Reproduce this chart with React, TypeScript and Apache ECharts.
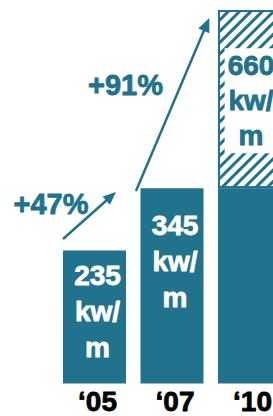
import React, { useEffect, useRef } from "react";
import * as echarts from "echarts";

const categories = ["\u201805", "\u201807", "\u201810"];
const totals = [235, 345, 660];
const achieved = [235, 345, 345];
const unitText = "kw/\nm";
const growthLabels = ["+47%", "+91%"];

const TEAL = "#21728d";
const FONT = '"Liberation Sans", Arial, sans-serif';
const HEAVY = 0.8;

function arrow(x1: number, y1: number, x2: number, y2: number, len: number, half: number) {
  const dx = x2 - x1;
  const dy = y2 - y1;
  const L = Math.sqrt(dx * dx + dy * dy);
  const ux = dx / L;
  const uy = dy / L;
  const bx = x2 - ux * len;
  const by = y2 - uy * len;
  const nx = -uy;
  const ny = ux;
  return [
    {
      type: "line",
      shape: { x1, y1, x2: bx + ux * 2, y2: by + uy * 2 },
      style: { stroke: TEAL, lineWidth: 2.5 },
    },
    {
      type: "polygon",
      shape: {
        points: [
          [x2, y2],
          [bx + nx * half, by + ny * half],
          [bx - nx * half, by - ny * half],
        ],
      },
      style: { fill: TEAL },
    },
  ];
}

export default function App() {
  const ref = useRef<HTMLDivElement>(null);
  useEffect(() => {
    if (!ref.current) return;
    const chart = echarts.init(ref.current, null, { renderer: "svg" });
    const labelDistances = [7, 19];
    const baseData = achieved.map((v, i) => {
      if (i < 2) {
        return {
          value: v,
          label: {
            show: true,
            position: "insideTop",
            distance: labelDistances[i],
            offset: [3, 0],
            formatter: `${totals[i]}\n${unitText}`,
            color: "#fff",
            textBorderColor: "#fff",
            textBorderWidth: HEAVY,
            fontSize: 28,
            fontWeight: "bold",
            fontFamily: FONT,
            lineHeight: 36,
          },
        };
      }
      return { value: v, label: { show: false } };
    });
    const projData = totals.map((t, i) => {
      const ext = t - achieved[i];
      if (ext <= 0) return "-";
      return {
        value: ext,
        itemStyle: {
          color: "#fff",
          borderColor: TEAL,
          borderWidth: 2,
          decal: {
            symbol: "rect",
            symbolSize: 1,
            dashArrayX: [1, 0],
            dashArrayY: [3, 5],
            rotation: -Math.PI / 4,
            color: TEAL,
          },
        },
        label: {
          show: true,
          position: "inside",
          offset: [1.5, 1.5],
          formatter: `${t}\n${unitText}`,
          color: TEAL,
          textBorderColor: TEAL,
          textBorderWidth: HEAVY,
          backgroundColor: "#fff",
          padding: [0, 3],
          fontSize: 28,
          fontWeight: "bold",
          fontFamily: FONT,
          lineHeight: 35,
        },
      };
    });

    const pctStyle = (text: string) => ({
      text,
      fill: TEAL,
      stroke: TEAL,
      lineWidth: HEAVY,
      lineJoin: "round",
      font: `bold 29px ${FONT}`,
      textAlign: "center",
      textVerticalAlign: "middle",
    });

    chart.setOption({
      animation: false,
      grid: { left: 55.75, right: 0.75, top: 10, bottom: 31 },
      xAxis: {
        type: "category",
        data: categories,
        axisLine: { show: false },
        axisTick: { show: false },
        axisLabel: {
          color: "#000",
          textBorderColor: "#000",
          textBorderWidth: HEAVY,
          fontSize: 28,
          fontWeight: "bold",
          fontFamily: FONT,
          margin: 4,
          padding: [0, 0, 0, 6],
        },
      },
      yAxis: { type: "value", min: 0, max: 660, show: false, splitLine: { show: false } },
      series: [
        {
          type: "bar",
          stack: "a",
          barWidth: 63,
          itemStyle: { color: TEAL },
          data: baseData,
        },
        {
          type: "bar",
          stack: "a",
          barWidth: 63,
          data: projData,
        },
      ],
      graphic: [
        ...arrow(63, 239, 116, 192, 13, 5.5),
        ...arrow(136, 191, 209.3, 18, 14, 6),
        { type: "text", x: 51, y: 203.5, style: pctStyle(growthLabels[0]) },
        { type: "text", x: 125.5, y: 84.5, style: pctStyle(growthLabels[1]) },
      ],
    });
    return () => chart.dispose();
  }, []);
  return (
    <div
      style={{
        position: "fixed",
        left: 0,
        top: 0,
        width: 273,
        height: 416,
        overflow: "hidden",
        background: "#fff",
      }}
    >
      <div ref={ref} style={{ width: 289, height: 416 }} />
    </div>
  );
}
